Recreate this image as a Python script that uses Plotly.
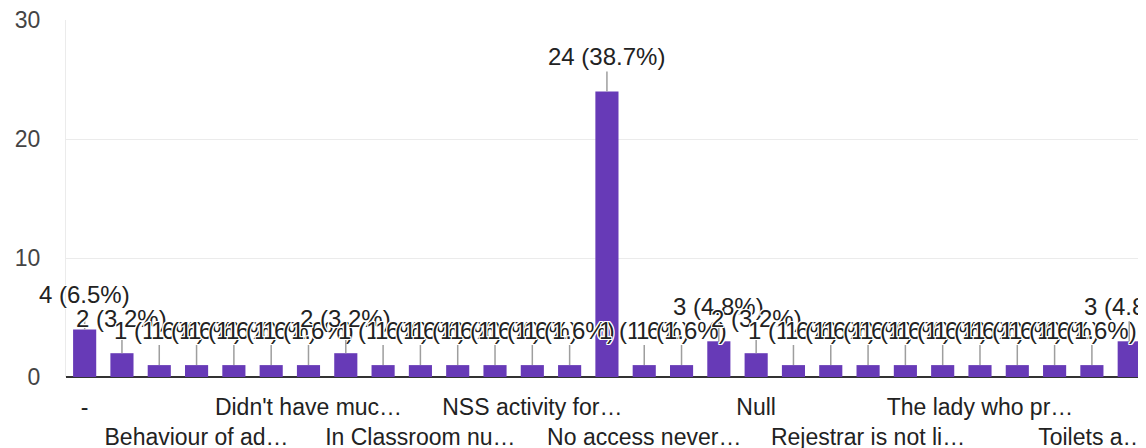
import plotly.graph_objects as go

categories = [
    "-", "All good", "Bathroom cleanliness", "Behaviour of ad…", "Canteen food quality",
    "Delay in results", "Didn't have muc…", "Fees structure", "Hostel facilities",
    "In Classroom nu…", "Lack of lab equipment", "Library timings", "NSS activity for…",
    "Nil", "No", "No access never…", "No issues", "None", "Null", "Parking problem",
    "Poor wifi", "Rejestrar is not li…", "Sports facilities", "Teachers are late",
    "The lady who pr…", "Timetable issues", "Toilet cleaning", "Toilets a…", "Water facility",
]
counts = [4, 2, 1, 1, 1, 1, 1, 2, 1, 1, 1, 1, 1, 1, 24, 1, 1, 3, 2, 1, 1, 1, 1, 1, 1, 1, 1, 1, 3]
y_ticks = [0, 10, 20, 30]

total = sum(counts)
labels = [f"{v} ({v / total * 100:.1f}%)" for v in counts]

FONT = "Arial, 'Liberation Sans', sans-serif"
PURPLE = "#673ab7"
FS = 23

fig = go.Figure(go.Bar(
    x=categories, y=counts, marker=dict(color=PURPLE, line=dict(width=0)),
    hoverinfo="skip",
))

halo = "1px 0 0 #fff, -1px 0 0 #fff, 0 1px 0 #fff, 0 -1px 0 #fff, 1px 1px 0 #fff, -1px -1px 0 #fff, 1px -1px 0 #fff, -1px 1px 0 #fff"
for c, v, t in zip(categories, counts, labels):
    fig.add_annotation(
        x=c, y=v, text=t, showarrow=True, arrowhead=0, ax=0, ay=-35,
        arrowcolor="#9e9e9e", arrowwidth=1.5, standoff=0,
        font=dict(family=FONT, size=24, color="#222222", shadow=halo),
    )

tickvals = categories[::3]
ticktext = [("<br>" + c) if i % 2 else c for i, c in enumerate(tickvals)]

# page body has an 8px default margin, so the figure is offset by 8px
fig.update_layout(
    width=1138, height=440,
    margin=dict(l=58, r=0, t=12, b=71),
    plot_bgcolor="white", paper_bgcolor="white",
    bargap=0.38, showlegend=False,
    font=dict(family=FONT, size=FS, color="#222222"),
)
fig.update_xaxes(
    type="category", range=[-0.5, 28.45], tickmode="array",
    tickvals=tickvals, ticktext=ticktext, ticks="", showgrid=False,
    showline=False, automargin=False, tickangle=0, ticklabelstandoff=14,
    ticklabeloverflow="allow",
    tickfont=dict(family=FONT, size=FS, color="#222222"),
)
fig.update_yaxes(
    range=[0, 30], tickmode="array", tickvals=y_ticks, ticks="",
    showgrid=True, gridcolor="#ebebeb", gridwidth=1,
    zeroline=True, zerolinecolor="#333333", zerolinewidth=2,
    showline=True, linecolor="#ebebeb", linewidth=1,
    ticklabelstandoff=20, automargin=False, ticklabeloverflow="allow",
    tickfont=dict(family=FONT, size=FS, color="#444444"),
)

fig.write_html("out.html")
